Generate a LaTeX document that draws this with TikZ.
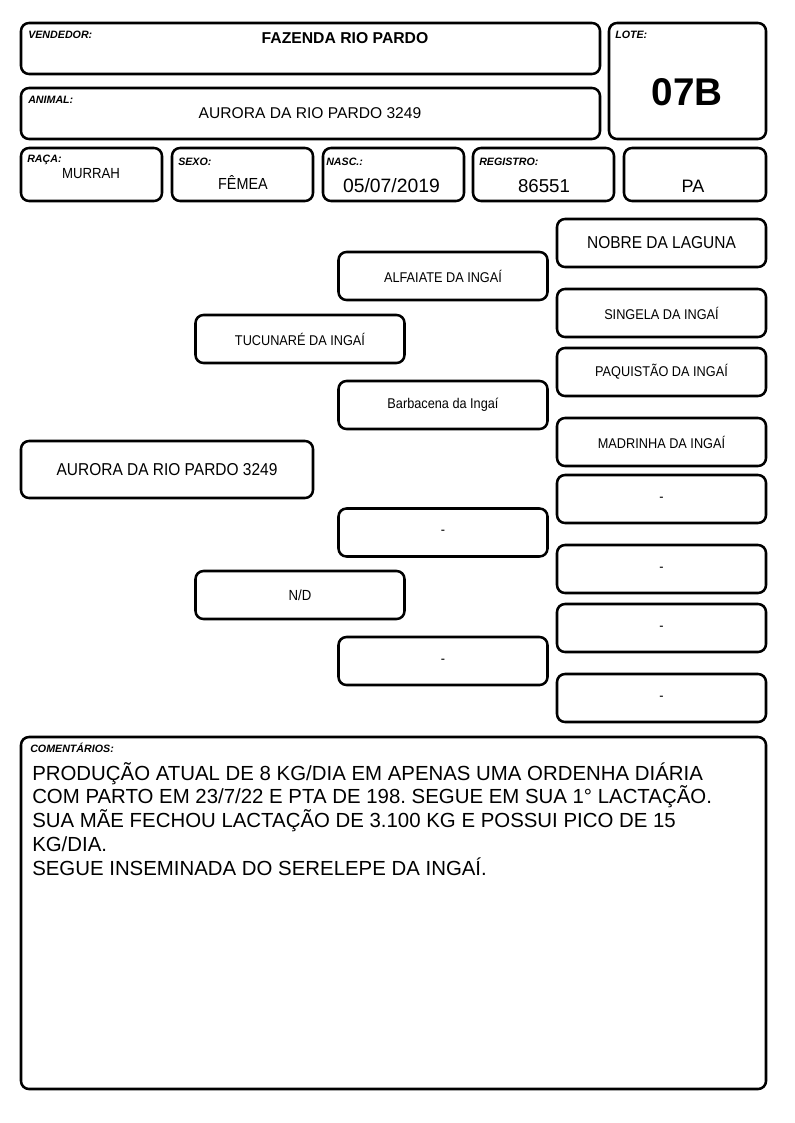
\documentclass[tikz,border=0pt]{standalone}
\usepackage{fontspec}
\setmainfont{Liberation Sans}
\newfontfamily\narrow{Liberation Sans}[FakeStretch=0.9]
\newdimen\px
\px=0.75pt
\newcommand{\fs}[1]{\fontsize{#1}{#1}\selectfont}
\frenchspacing

\begin{document}
\begin{tikzpicture}[x=0.75pt,y=-0.75pt,
  fbox/.style n args={2}{draw,rounded corners=6pt,line width=1.9pt,
    minimum width=#1\px,minimum height=#2\px,inner sep=0pt,outer sep=0pt},
  ped/.style={fbox={209}{48},font=\narrow\fs{10.6pt}},
  lbl/.style={anchor=base west,inner sep=0pt,font=\bfseries\itshape\fs{8pt}},
  val/.style={anchor=base,inner sep=0pt}]

\fill[white] (0,0) rectangle (794,1123);
\useasboundingbox (0,0) rectangle (794,1123);

% cabecalho
\node[fbox={579}{51}] (vend) at (310.5,48.5) {};
\node[fbox={579}{51}] (animal) at (310.5,113.5) {};
\node[fbox={157}{116}] (lote) at (687.5,81) {};
\node[lbl] (vendlbl) at (28,39) {VENDEDOR:};
\node[val,font=\bfseries\fs{11.8pt}] (vendval) at (345,43.5) {FAZENDA RIO PARDO};
\node[lbl] (animallbl) at (28,104) {ANIMAL:};
\node[val,font=\fs{11.7pt}] (animalval) at (310,119) {AURORA DA RIO PARDO 3249};
\node[lbl] (lotelbl) at (615,39) {LOTE:};
\node[val,font=\bfseries\fs{29pt}] (loteval) at (687,106) {07B};

\node[fbox={141}{53}] (raca) at (91.5,174.5) {};
\node[fbox={141}{53}] (sexo) at (242.5,174.5) {};
\node[fbox={141}{53}] (nasc) at (393.5,174.5) {};
\node[fbox={141}{53}] (registro) at (543.5,174.5) {};
\node[fbox={142}{53}] (uf) at (695,174.5) {};
\node[lbl] (racalbl) at (27,163) {RAÇA:};
\node[val,font=\narrow\fs{11pt}] (racaval) at (91,179) {MURRAH};
\node[lbl] (sexolbl) at (178,166) {SEXO:};
\node[val,font=\narrow\fs{12pt}] (sexoval) at (243,190) {FÊMEA};
\node[lbl] (nasclbl) at (326,166) {NASC.:};
\node[val,font=\fs{14.5pt}] (nascval) at (391.5,193) {05/07/2019};
\node[lbl] (registrolbl) at (479,166) {REGISTRO:};
\node[val,font=\fs{14pt}] (registroval) at (544,193) {86551};
\node[val,font=\fs{13.5pt}] (ufval) at (693,193) {PA};

% genealogia
\node[fbox={292}{57},font=\narrow\fs{12.9pt}] (aurora) at (167,469.5) {AURORA DA RIO PARDO 3249};
\node[ped] (tucunare) at (300,339) {TUCUNARÉ DA INGAÍ};
\node[ped,font=\narrow\fs{11pt}] (nd) at (300,595) {N/D};
\node[ped] (alfaiate) at (443,276) {ALFAIATE DA INGAÍ};
\node[ped] (barbacena) at (443,405) {Barbacena da Ingaí};
\node[ped] (mae2) at (443,532.5) {-};
\node[ped] (mae3) at (443,661) {-};
\node[ped,font=\narrow\fs{12.9pt}] (nobre) at (661.5,243) {NOBRE DA LAGUNA};
\node[ped] (singela) at (661.5,313) {SINGELA DA INGAÍ};
\node[ped] (paquistao) at (661.5,372) {PAQUISTÃO DA INGAÍ};
\node[ped] (madrinha) at (661.5,442) {MADRINHA DA INGAÍ};
\node[ped] (avo5) at (661.5,499) {-};
\node[ped] (avo6) at (661.5,569) {-};
\node[ped] (avo7) at (661.5,628) {-};
\node[ped] (avo8) at (661.5,698) {-};

% comentarios
\node[fbox={745}{352}] (coment) at (393.5,913) {};
\node[lbl] (comentlbl) at (30,752) {COMENTÁRIOS:};
\foreach \linha [count=\i] in {PRODUÇÃO ATUAL DE 8 KG/DIA EM APENAS UMA ORDENHA DIÁRIA,
    COM PARTO EM 23/7/22 E PTA DE 198. SEGUE EM SUA 1° LACTAÇÃO.,
    SUA MÃE FECHOU LACTAÇÃO DE 3.100 KG E POSSUI PICO DE 15,
    KG/DIA.,
    SEGUE INSEMINADA DO SERELEPE DA INGAÍ.}
  \node[anchor=base west,inner sep=0pt,font=\fs{15.3pt}] (coment\i) at (32,{780+23.8*(\i-1)}) {\linha};

\end{tikzpicture}
\end{document}
